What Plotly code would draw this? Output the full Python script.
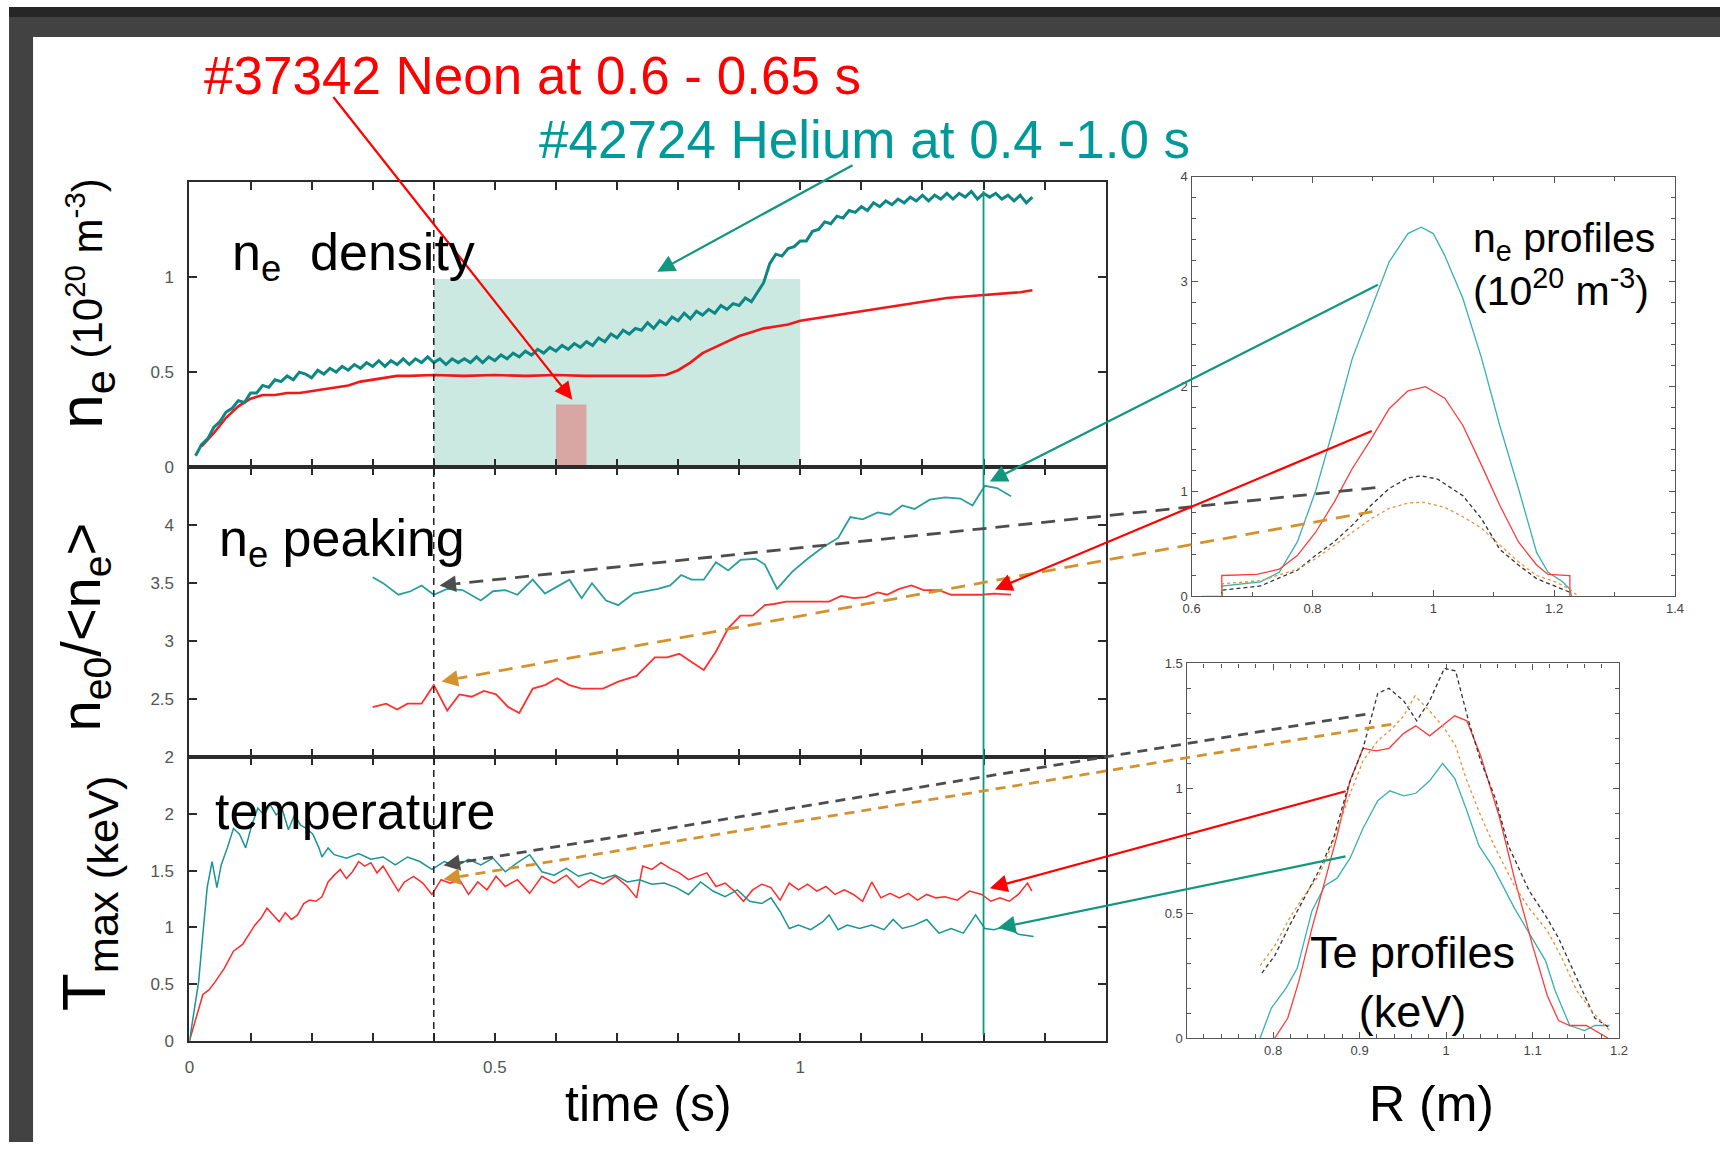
import plotly.graph_objects as go

W, H = 1729, 1152
OFF = 8                         # page margin around the figure
SX, SY = 1729 / 1745, 1152 / 1168   # page -> picture scaling

# ---------------- time traces ----------------
# electron density (1e20 m^-3)
t_dens_he = [0.01,0.02,0.03,0.04,0.05,0.06,0.07,0.08,0.09,0.10,
             0.11,0.12,0.13,0.14,0.15,0.16,0.17,0.18,0.19,0.20,
             0.21,0.22,0.23,0.24,0.25,0.26,0.27,0.28,0.29,0.30,
             0.31,0.32,0.33,0.34,0.35,0.36,0.37,0.38,0.39,0.40,
             0.41,0.42,0.43,0.44,0.45,0.46,0.47,0.48,0.49,0.50,
             0.51,0.52,0.53,0.54,0.55,0.56,0.57,0.58,0.59,0.60,
             0.61,0.62,0.63,0.64,0.65,0.66,0.67,0.68,0.69,0.70,
             0.71,0.72,0.73,0.74,0.75,0.76,0.77,0.78,0.79,0.80,
             0.81,0.82,0.83,0.84,0.85,0.86,0.87,0.88,0.89,0.90,
             0.91,0.92,0.93,0.94,0.95,0.96,0.97,0.98,0.99,1.00,
             1.01,1.02,1.03,1.04,1.05,1.06,1.07,1.08,1.09,1.10,
             1.11,1.12,1.13,1.14,1.15,1.16,1.17,1.18,1.19,1.20,
             1.21,1.22,1.23,1.24,1.25,1.26,1.27,1.28,1.29,1.30,
             1.31,1.32,1.33,1.34,1.35,1.36,1.37,1.38]
ne_he = [0.06,0.12,0.15,0.21,0.24,0.29,0.31,0.35,0.34,0.39,
         0.39,0.43,0.42,0.46,0.45,0.48,0.46,0.50,0.49,0.47,
         0.51,0.49,0.52,0.50,0.53,0.51,0.54,0.52,0.55,0.53,
         0.56,0.53,0.56,0.54,0.57,0.54,0.57,0.55,0.58,0.55,
         0.57,0.54,0.57,0.55,0.57,0.55,0.58,0.55,0.58,0.56,
         0.59,0.57,0.60,0.58,0.61,0.59,0.62,0.60,0.63,0.61,
         0.64,0.62,0.65,0.63,0.66,0.64,0.68,0.66,0.70,0.68,
         0.72,0.70,0.73,0.72,0.76,0.73,0.77,0.75,0.79,0.77,
         0.81,0.78,0.82,0.80,0.83,0.81,0.85,0.83,0.86,0.85,
         0.89,0.87,0.92,0.97,1.07,1.12,1.11,1.15,1.16,1.19,
         1.19,1.24,1.25,1.29,1.28,1.32,1.31,1.35,1.34,1.37,
         1.35,1.39,1.37,1.40,1.38,1.41,1.39,1.42,1.40,1.43,
         1.40,1.43,1.41,1.44,1.41,1.44,1.42,1.45,1.41,1.44,
         1.42,1.44,1.41,1.43,1.40,1.43,1.39,1.42]
t_dens_ne = [0.02,0.04,0.06,0.08,0.10,0.12,0.14,0.16,0.18,0.20,0.22,0.24,0.26,0.28,0.30,0.32,0.34,0.36,
             0.40,0.45,0.50,0.55,0.60,0.65,0.70,0.75,0.78,0.80,0.82,0.84,0.86,0.88,0.90,0.92,0.94,0.96,0.98,1.00,
             1.04,1.08,1.12,1.16,1.20,1.24,1.28,1.32,1.36,1.38]
ne_ne = [0.11,0.18,0.26,0.32,0.36,0.38,0.38,0.39,0.39,0.40,0.41,0.42,0.43,0.45,0.46,0.47,0.48,0.48,
         0.485,0.48,0.485,0.48,0.485,0.48,0.48,0.48,0.485,0.51,0.55,0.60,0.63,0.66,0.69,0.71,0.73,0.74,0.75,0.77,
         0.79,0.81,0.83,0.85,0.87,0.89,0.90,0.91,0.92,0.93]

# density peaking ne0/<ne>
t_peak_he = [0.300,0.317,0.342,0.362,0.380,0.400,0.422,0.447,0.477,0.497,0.517,0.537,0.562,0.582,0.602,0.622,0.642,
             0.659,0.682,0.702,0.727,0.747,0.767,0.787,0.805,0.822,0.842,0.862,0.882,0.902,0.927,0.942,0.962,0.987,
             1.012,1.037,1.062,1.082,1.102,1.127,1.147,1.167,1.187,1.212,1.237,1.262,1.282,1.302,1.322,1.345]
peak_he = [3.55,3.50,3.40,3.43,3.48,3.40,3.45,3.44,3.35,3.43,3.44,3.40,3.53,3.41,3.47,3.53,3.37,3.50,3.35,3.31,
           3.41,3.43,3.45,3.48,3.57,3.53,3.53,3.68,3.61,3.70,3.71,3.66,3.45,3.60,3.71,3.81,3.89,4.07,4.05,4.11,
           4.09,4.17,4.14,4.22,4.24,4.23,4.17,4.34,4.32,4.25]
t_peak_ne = [0.300,0.322,0.340,0.357,0.380,0.400,0.422,0.442,0.462,0.482,0.502,0.522,0.540,0.562,0.582,0.602,0.622,
             0.642,0.677,0.702,0.732,0.762,0.782,0.802,0.822,0.842,0.862,0.882,0.902,0.922,0.942,0.957,0.977,1.047,
             1.067,1.087,1.107,1.127,1.142,1.162,1.182,1.202,1.227,1.247,1.267,1.297,1.317,1.345]
peak_ne = [2.43,2.46,2.41,2.46,2.46,2.62,2.40,2.54,2.52,2.57,2.54,2.43,2.38,2.59,2.62,2.68,2.62,2.59,2.59,2.65,
           2.70,2.86,2.86,2.89,2.82,2.75,2.91,3.11,3.22,3.22,3.31,3.32,3.34,3.34,3.39,3.37,3.38,3.42,3.40,3.45,
           3.48,3.44,3.44,3.40,3.40,3.40,3.41,3.40]

# maximum electron temperature (keV)
t_te_he = [0.000,0.007,0.015,0.022,0.029,0.037,0.045,0.052,0.062,0.072,0.082,0.092,0.102,0.112,0.122,0.132,0.142,
           0.152,0.162,0.172,0.182,0.192,0.202,0.212,0.217,0.227,0.237,0.257,0.277,0.297,0.317,0.337,0.357,0.377,
           0.397,0.417,0.437,0.457,0.477,0.497,0.517,0.537,0.557,0.577,0.597,0.617,0.637,0.657,0.677,0.697,0.717,
           0.737,0.757,0.777,0.797,0.817,0.837,0.857,0.877,0.897,0.917,0.937,0.952,0.967,0.982,0.997,1.017,1.037,
           1.047,1.062,1.077,1.097,1.117,1.137,1.152,1.167,1.187,1.207,1.227,1.247,1.267,1.287,1.302,1.317,1.337,
           1.357,1.382]
te_he = [0.0,0.26,0.52,0.94,1.35,1.58,1.35,1.55,1.70,1.87,1.82,1.70,1.90,2.05,1.99,2.08,1.99,2.04,1.86,1.99,
         1.90,1.87,1.82,1.70,1.62,1.70,1.64,1.61,1.65,1.60,1.62,1.55,1.62,1.58,1.51,1.58,1.54,1.60,1.55,1.61,
         1.49,1.57,1.64,1.49,1.46,1.52,1.45,1.48,1.43,1.46,1.40,1.42,1.38,1.39,1.35,1.29,1.40,1.32,1.27,1.33,
         1.23,1.21,1.26,1.14,0.99,1.02,0.98,1.05,1.11,0.98,1.02,0.99,1.02,0.98,1.07,0.99,1.02,1.07,0.95,0.99,
         0.95,1.11,0.99,0.98,1.01,0.94,0.92]
t_te_ne = [0.000,0.012,0.022,0.032,0.042,0.057,0.072,0.087,0.097,0.107,0.117,0.127,0.137,0.147,0.157,0.167,0.177,
           0.187,0.197,0.207,0.217,0.227,0.237,0.247,0.257,0.267,0.277,0.287,0.297,0.307,0.317,0.327,0.342,0.352,
           0.367,0.382,0.397,0.412,0.427,0.442,0.457,0.472,0.487,0.502,0.517,0.537,0.557,0.577,0.597,0.617,0.637,
           0.657,0.677,0.697,0.717,0.732,0.742,0.757,0.772,0.787,0.802,0.817,0.832,0.847,0.862,0.877,0.892,0.907,
           0.922,0.937,0.952,0.967,0.982,0.997,1.012,1.027,1.042,1.057,1.072,1.087,1.102,1.117,1.132,1.147,1.162,
           1.177,1.192,1.207,1.222,1.237,1.257,1.277,1.297,1.312,1.327,1.342,1.357,1.372,1.379]
te_ne = [0.0,0.23,0.41,0.45,0.52,0.64,0.79,0.85,0.94,1.02,1.08,1.17,1.11,1.05,1.13,1.07,1.11,1.21,1.24,1.23,
         1.27,1.40,1.46,1.51,1.43,1.49,1.58,1.54,1.57,1.48,1.54,1.45,1.32,1.40,1.45,1.39,1.29,1.42,1.39,1.42,
         1.29,1.40,1.33,1.45,1.36,1.42,1.30,1.45,1.39,1.46,1.35,1.42,1.38,1.45,1.36,1.26,1.54,1.51,1.57,1.52,
         1.48,1.42,1.45,1.48,1.36,1.39,1.32,1.23,1.33,1.38,1.35,1.24,1.39,1.33,1.38,1.32,1.36,1.29,1.33,1.29,
         1.23,1.40,1.26,1.30,1.26,1.30,1.24,1.29,1.26,1.27,1.24,1.32,1.29,1.23,1.26,1.23,1.29,1.39,1.32]

# ---------------- radial profiles ----------------
R_np_he = [0.617,0.65,0.65,0.684,0.714,0.745,0.775,0.805,0.836,0.866,0.897,0.927,0.958,0.98,1.0,1.019,1.049,1.08,
           1.11,1.141,1.171,1.19,1.214,1.226,1.229]
np_he = [0,0,0.10,0.12,0.14,0.23,0.52,1.0,1.63,2.27,2.74,3.19,3.46,3.52,3.46,3.25,2.84,2.27,1.63,1.03,0.42,0.23,
         0.14,0.07,0]
R_np_ne = [0.65,0.65,0.708,0.745,0.775,0.805,0.836,0.866,0.897,0.927,0.958,0.987,1.019,1.049,1.08,1.11,1.141,
           1.171,1.19,1.22,1.226,1.226]
np_ne = [0,0.20,0.21,0.26,0.39,0.61,0.90,1.22,1.50,1.79,1.96,2.0,1.89,1.63,1.25,0.87,0.52,0.30,0.21,0.20,0.20,0]
R_np_k = [0.65,0.65,0.714,0.775,0.805,0.836,0.866,0.897,0.927,0.958,0.979,1.007,1.049,1.08,1.11,1.141,1.171,
          1.202,1.226]
np_k = [0,0.06,0.10,0.25,0.39,0.52,0.68,0.87,1.03,1.13,1.15,1.12,0.96,0.74,0.45,0.30,0.17,0.10,0.04]
R_np_o = [0.65,0.65,0.714,0.775,0.805,0.836,0.866,0.897,0.927,0.958,0.982,1.019,1.049,1.08,1.11,1.141,1.171,
          1.202,1.226,1.24]
np_o = [0,0.12,0.15,0.26,0.36,0.49,0.61,0.74,0.84,0.89,0.90,0.85,0.76,0.65,0.49,0.33,0.20,0.14,0.07,0]

R_tp_he = [0.785,0.798,0.815,0.828,0.845,0.86,0.874,0.889,0.904,0.921,0.935,0.951,0.965,0.981,0.996,1.01,1.023,
           1.038,1.055,1.079,1.096,1.115,1.126,1.143,1.16,1.172,1.189]
tp_he = [0,0.12,0.20,0.28,0.51,0.61,0.64,0.72,0.84,0.95,0.99,0.97,0.98,1.03,1.10,1.04,0.92,0.77,0.68,0.52,0.42,
         0.31,0.19,0.05,0.03,0.05,0.05]
R_tp_ne = [0.802,0.817,0.83,0.845,0.86,0.874,0.889,0.904,0.919,0.934,0.951,0.965,0.981,0.996,1.01,1.024,1.04,
           1.062,1.079,1.1,1.117,1.13,1.143,1.162,1.187]
tp_ne = [0,0.08,0.23,0.44,0.63,0.81,1.03,1.16,1.15,1.16,1.22,1.25,1.21,1.25,1.29,1.27,1.13,0.88,0.64,0.37,0.17,
         0.07,0.05,0.05,0]
R_tp_k = [0.787,0.802,0.819,0.836,0.853,0.87,0.887,0.904,0.921,0.934,0.951,0.966,0.981,0.998,1.011,1.026,1.04,
          1.057,1.072,1.096,1.115,1.13,1.147,1.16,1.172,1.189]
tp_k = [0.26,0.33,0.45,0.56,0.67,0.80,1.01,1.16,1.38,1.40,1.35,1.27,1.35,1.48,1.47,1.27,1.11,0.96,0.77,0.59,0.49,
        0.40,0.27,0.17,0.08,0.04]
R_tp_o = [0.785,0.802,0.819,0.836,0.853,0.87,0.887,0.904,0.921,0.938,0.951,0.964,0.981,0.998,1.011,1.023,1.04,
          1.057,1.079,1.096,1.117,1.134,1.151,1.168,1.189]
tp_o = [0.29,0.37,0.48,0.57,0.65,0.79,0.96,1.11,1.19,1.24,1.29,1.37,1.31,1.24,1.17,1.04,0.89,0.76,0.61,0.52,0.43,
        0.32,0.19,0.11,0.03]

# highlighted time windows (s) and density extents
he_window = [0.4, 1.0]
he_window_top = 0.99
ne_window = [0.6, 0.65]
ne_window_top = 0.33
t_ref = 0.4
t_prof = 1.3

# ---------------- placement helpers (picture pixels -> paper) ----------------
def P(px):
    return (px / SX - OFF) / W

def Q(py):
    return 1 - (py / SY - OFF) / H

FONT = "Liberation Sans, Arial, Helvetica, sans-serif"
TEAL = "#12977E"
RED = "#FF0000"
GRAY = "#4d4d4d"
ORANGE = "#D4922E"

fig = go.Figure()

def line(x, y, ax, color, width, dash=None):
    fig.add_trace(go.Scatter(x=x, y=y, mode="lines", xaxis=ax[0], yaxis=ax[1],
                             line=dict(color=color, width=width, dash=dash), hoverinfo="skip"))

line(t_dens_ne, ne_ne, ("x", "y"), "#F01818", 2.6)
line(t_dens_he, ne_he, ("x", "y"), "#0C8784", 3.0)
line(t_peak_he, peak_he, ("x2", "y2"), "#2A9D9D", 1.8)
line(t_peak_ne, peak_ne, ("x2", "y2"), "#FF3030", 1.8)
line(t_te_ne, te_ne, ("x3", "y3"), "#FF2A2A", 1.5)
line(t_te_he, te_he, ("x3", "y3"), "#1B9494", 1.5)

line(R_np_he, np_he, ("x4", "y4"), "#3AAFAF", 1.3)
line(R_np_ne, np_ne, ("x4", "y4"), "#FF3B3B", 1.3)
line(R_np_k, np_k, ("x4", "y4"), "#333333", 1.3, "4px,3px")
line(R_np_o, np_o, ("x4", "y4"), "#E8913A", 1.3, "3px,3px")

line(R_tp_he, tp_he, ("x5", "y5"), "#3AAFAF", 1.3)
line(R_tp_ne, tp_ne, ("x5", "y5"), "#FF3B3B", 1.3)
line(R_tp_k, tp_k, ("x5", "y5"), "#333333", 1.3, "4px,3px")
line(R_tp_o, tp_o, ("x5", "y5"), "#E8913A", 1.3, "3px,3px")

# ---------------- axes ----------------
mainc = "#2b2b2b"
main_common = dict(showline=True, linecolor=mainc, linewidth=2, mirror="allticks", ticks="inside",
                   ticklen=8, tickwidth=2, tickcolor=mainc, showgrid=False, zeroline=False,
                   tickfont=dict(family=FONT, size=17, color="#555"))
xdom = [P(188.6), P(1106)]
xminor = dict(tickmode="linear", tick0=0, dtick=0.1, ticks="inside", ticklen=8, tickwidth=2, tickcolor=mainc,
              showgrid=False)

small_common = dict(showline=True, linecolor="#555", linewidth=1.3, mirror="allticks", ticks="inside",
                    ticklen=6, tickwidth=1, tickcolor="#555", showgrid=False, zeroline=False,
                    tickfont=dict(family=FONT, size=13, color="#444"))

fig.update_layout(
    width=W, height=H, autosize=False, margin=dict(l=0, r=0, t=0, b=0), showlegend=False,
    paper_bgcolor="white", plot_bgcolor="white",
    xaxis=dict(domain=xdom, anchor="y", range=[0, 1.5], tickvals=[0, 0.5, 1], showticklabels=False,
               minor=xminor, **main_common),
    yaxis=dict(domain=[Q(468.6), Q(183)], anchor="x", range=[0, 1.5], tickvals=[0, 0.5, 1],
               ticktext=["0", "0.5", "1"], ticklabelstandoff=10, **main_common),
    xaxis2=dict(domain=xdom, anchor="y2", range=[0, 1.5], tickvals=[0, 0.5, 1], showticklabels=False,
                minor=xminor, **main_common),
    yaxis2=dict(domain=[Q(758.7), Q(468.6)], anchor="x2", range=[2, 4.5], tickvals=[2, 2.5, 3, 3.5, 4],
                ticktext=["2", "2.5", "3", "3.5", "4"], ticklabelstandoff=10, **main_common),
    xaxis3=dict(domain=xdom, anchor="y3", range=[0, 1.5], tickvals=[0, 0.5, 1], ticktext=["0", "0.5", "1"],
                minor=xminor, ticklabelstandoff=10, **main_common),
    yaxis3=dict(domain=[Q(1043), Q(758.7)], anchor="x3", range=[0, 2.5], tickvals=[0, 0.5, 1, 1.5, 2],
                ticktext=["0", "0.5", "1", "1.5", "2"], ticklabelstandoff=10, **main_common),
    xaxis4=dict(domain=[P(1192), P(1676)], anchor="y4", range=[0.6, 1.4], tickvals=[0.6, 0.8, 1, 1.2, 1.4],
                ticktext=["0.6", "0.8", "1", "1.2", "1.4"],
                minor=dict(tickmode="linear", tick0=0.6, dtick=0.1, ticks="inside", ticklen=4, tickcolor="#555"),
                **small_common),
    yaxis4=dict(domain=[Q(598), Q(178)], anchor="x4", range=[0, 4], tickvals=[0, 1, 2, 3, 4],
                ticktext=["0", "1", "2", "3", "4"],
                minor=dict(tickmode="linear", tick0=0, dtick=0.2, ticks="inside", ticklen=4, tickcolor="#555"),
                **small_common),
    xaxis5=dict(domain=[P(1187), P(1620)], anchor="y5", range=[0.7, 1.2], tickvals=[0.8, 0.9, 1, 1.1, 1.2],
                ticktext=["0.8", "0.9", "1", "1.1", "1.2"],
                minor=dict(tickmode="linear", tick0=0.7, dtick=0.02, ticks="inside", ticklen=4, tickcolor="#555"),
                **small_common),
    yaxis5=dict(domain=[Q(1040), Q(665)], anchor="x5", range=[0, 1.5], tickvals=[0, 0.5, 1, 1.5],
                ticktext=["0", "0.5", "1", "1.5"],
                minor=dict(tickmode="linear", tick0=0, dtick=0.1, ticks="inside", ticklen=4, tickcolor="#555"),
                **small_common),
)

# ---------------- shapes ----------------
shapes = [
    dict(type="rect", xref="paper", yref="paper", x0=0, x1=1, y0=Q(18), y1=1, fillcolor="#262626",
         line=dict(width=0), layer="below"),
    dict(type="rect", xref="paper", yref="paper", x0=0, x1=1, y0=Q(38), y1=Q(18), fillcolor="#424242",
         line=dict(width=0), layer="below"),
    dict(type="rect", xref="paper", yref="paper", x0=0, x1=P(32), y0=0, y1=Q(38), fillcolor="#424242",
         line=dict(width=0), layer="below"),
    dict(type="rect", xref="x", yref="y", x0=he_window[0], x1=he_window[1], y0=0, y1=he_window_top,
         fillcolor="#CBE8E1", line=dict(width=0), layer="below"),
    dict(type="rect", xref="x", yref="y", x0=ne_window[0], x1=ne_window[1], y0=0, y1=ne_window_top,
         fillcolor="#D8A6A3", line=dict(width=0), layer="below"),
    dict(type="line", xref="x", yref="paper", x0=t_ref, x1=t_ref, y0=Q(1043), y1=Q(183),
         line=dict(color="#222", width=1.5, dash="7px,5px"), layer="above"),
    dict(type="line", xref="x", yref="paper", x0=t_prof, x1=t_prof, y0=Q(1037), y1=Q(192),
         line=dict(color=TEAL, width=1.8), layer="above"),
]

annotations = []

def arrow(tail, tip, color, width=2.2, size=1.6):
    annotations.append(dict(x=P(tip[0]), y=Q(tip[1]), xref="paper", yref="paper", text="",
                            ax=(tail[0] - tip[0]) / SX, ay=(tail[1] - tip[1]) / SY, axref="pixel", ayref="pixel",
                            showarrow=True, arrowhead=2, arrowsize=size, arrowwidth=width, arrowcolor=color))

def dashed_arrow(tail, tip, color, dash, width=2.8):
    dx, dy = tail[0] - tip[0], tail[1] - tip[1]
    L = (dx * dx + dy * dy) ** 0.5
    ux, uy = dx / L, dy / L
    shapes.append(dict(type="line", xref="paper", yref="paper", x0=P(tail[0]), y0=Q(tail[1]),
                       x1=P(tip[0] + ux * 18), y1=Q(tip[1] + uy * 18),
                       line=dict(color=color, width=width, dash=dash), layer="above"))
    annotations.append(dict(x=P(tip[0]), y=Q(tip[1]), xref="paper", yref="paper", text="",
                            ax=ux * 22, ay=uy * 22, axref="pixel", ayref="pixel", showarrow=True,
                            arrowhead=2, arrowsize=1.5, arrowwidth=2.2, arrowcolor=color))

arrow((334, 101), (572, 401), RED)
arrow((852, 167), (657, 273), TEAL)
arrow((1376, 288), (990, 483), TEAL)
arrow((1370, 434), (995, 591), RED)
arrow((1344, 794), (990, 890), RED)
arrow((1344, 859), (998, 930), TEAL)
dashed_arrow((1376, 489), (439, 587), GRAY, "14px,9px")
dashed_arrow((1373, 513), (441, 683), ORANGE, "14px,9px")
dashed_arrow((1366, 716), (443, 867), GRAY, "10px,7px")
dashed_arrow((1392, 726), (443, 881), ORANGE, "10px,7px")

def text(s, x, y, size, color="black", xanchor="left", angle=0, align="left"):
    annotations.append(dict(text=s, x=P(x), y=Q(y), xref="paper", yref="paper", showarrow=False,
                            xanchor=xanchor, yanchor="middle", textangle=angle, align=align,
                            font=dict(family=FONT, size=size, color=color)))

text("#37342 Neon at 0.6 - 0.65 s", 201, 76, 53, RED)
text("#42724 Helium at 0.4 -1.0 s", 537, 141, 53, "#009999")
text("n<sub>e</sub>  density", 229, 257, 52)
text("n<sub>e</sub> peaking", 216, 543, 52)
text("temperature", 212, 813, 52)
text("n<sub>e</sub> profiles<br>(10<sup>20</sup> m<sup>-3</sup>)", 1472, 266, 41)
text("Te profiles<br>(keV)", 1413, 984, 45, xanchor="center", align="center")
text("time (s)", 648, 1106, 50, xanchor="center")
text("R (m)", 1432, 1106, 50, xanchor="center")

text('<span style="font-size:62px">n<sub>e</sub></span> (10<sup>20</sup> m<sup>-3</sup>)', 84, 304, 42,
     xanchor="center", angle=-90)
text("n<sub>e0</sub>/&lt;n<sub>e</sub>&gt;", 83, 628, 56, xanchor="center", angle=-90)
text("T<sub>max (keV)</sub>", 87, 895, 62, xanchor="center", angle=-90)

fig.update_layout(shapes=shapes, annotations=annotations)
fig.write_html("out.html")
